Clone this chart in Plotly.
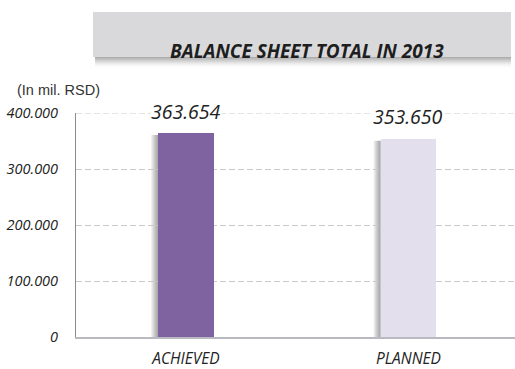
import plotly.graph_objects as go

# Balance sheet total, 2013 (in millions of RSD)
categories = ["ACHIEVED", "PLANNED"]
values = [363654, 353650]
value_labels = ["363.654", "353.650"]
bar_colors = ["#7f63a1", "#e4dfec"]
tick_values = [0, 100000, 200000, 300000, 400000]
tick_labels = ["0", "100.000", "200.000", "300.000", "400.000"]
title_text = "BALANCE SHEET TOTAL IN 2013"
unit_text = "(In mil. RSD)"

W, H = 515, 369
M_L, M_R, M_T, M_B = 76, 0, 113, 32
PW, PH = W - M_L - M_R, H - M_T - M_B
X_RANGE = [-0.494, 1.479]
BAR_W = 0.25
px_x = (X_RANGE[1] - X_RANGE[0]) / PW  # data units per pixel
ITALIC = "Open Sans"
GRID_COLOR = "#c9c9c9"
GRID_DASH = "6px,3px"


def px_to_paper_x(px):
    return (px - M_L) / PW


def px_to_paper_y(py):
    return (H - M_B - py) / PH


xs = list(range(len(categories)))

fig = go.Figure()

shapes = []
# dashed line along the top tick (the edge gridline is not drawn by the axis)
shapes.append(dict(
    type="line", xref="paper", yref="y", layer="below",
    x0=0, x1=1, y0=tick_values[-1], y1=tick_values[-1],
    line=dict(color=GRID_COLOR, width=1, dash=GRID_DASH),
))

# soft drop shadow on the left side of each bar
for i, v in zip(xs, values):
    left = i - BAR_W / 2
    for k in range(1, 8):
        shapes.append(dict(
            type="rect", xref="x", yref="y", layer="below",
            x0=left - k * px_x, x1=left, y0=0, y1=v - 3000,
            fillcolor="rgba(60,60,60,0.075)", line=dict(width=0),
        ))

# title banner with a fading shadow underneath
box_x0, box_x1, box_y0, box_y1 = 93, 511, 12, 57
for k in range(11):
    shapes.append(dict(
        type="rect", xref="paper", yref="paper",
        x0=px_to_paper_x(box_x0 + 2), x1=px_to_paper_x(box_x1),
        y0=px_to_paper_y(box_y1 + 1 + k), y1=px_to_paper_y(box_y1),
        fillcolor="rgba(70,70,70,%.3f)" % (0.085 * (1 - k / 11)),
        line=dict(width=0),
    ))
shapes.append(dict(
    type="rect", xref="paper", yref="paper",
    x0=px_to_paper_x(box_x0), x1=px_to_paper_x(box_x1),
    y0=px_to_paper_y(box_y1), y1=px_to_paper_y(box_y0),
    fillcolor="#d9d9db", line=dict(width=0),
))

fig.add_trace(go.Bar(
    x=xs, y=values, width=BAR_W,
    marker=dict(color=bar_colors, line=dict(width=0)),
    hoverinfo="skip",
))

annotations = []
for i, v, lab in zip(xs, values, value_labels):
    annotations.append(dict(
        x=i, y=v, xref="x", yref="y", text="<i>" + lab + "</i>",
        showarrow=False, yshift=22, bgcolor="white", borderpad=0,
        font=dict(family=ITALIC, size=19.5, color="#222222"),
    ))

annotations.append(dict(
    xref="paper", yref="paper",
    x=px_to_paper_x(307), y=px_to_paper_y(36),
    text="<b><i>" + title_text + "</i></b>", showarrow=False,
    font=dict(family=ITALIC, size=19, color="#1e1e1e"),
))
annotations.append(dict(
    xref="paper", yref="paper", xanchor="left",
    x=px_to_paper_x(15), y=px_to_paper_y(80),
    text=unit_text, showarrow=False,
    font=dict(family="Liberation Sans", size=14.5, color="#333333"),
))

fig.update_layout(
    width=W, height=H,
    margin=dict(l=M_L, r=M_R, t=M_T, b=M_B, pad=0, autoexpand=False),
    paper_bgcolor="white", plot_bgcolor="white",
    showlegend=False, bargap=0,
    shapes=shapes, annotations=annotations,
    xaxis=dict(
        range=X_RANGE, tickvals=xs,
        ticktext=["<i>" + c + "</i>" for c in categories],
        showgrid=False, zeroline=False, ticks="", automargin=False,
        showline=True, linecolor="#b9b9c1", linewidth=2,
        tickfont=dict(family=ITALIC, size=15.5, color="#222222"),
        ticklabelstandoff=6,
    ),
    yaxis=dict(
        range=[0, 400000], tickvals=tick_values,
        ticktext=["<i>" + t + "</i>" for t in tick_labels],
        showgrid=True, gridcolor=GRID_COLOR, griddash=GRID_DASH, gridwidth=1,
        zeroline=False, ticks="", automargin=False,
        showline=True, linecolor="#8a8a8a", linewidth=1,
        tickfont=dict(family=ITALIC, size=14.5, color="#222222"),
        ticklabelstandoff=14,
    ),
)

fig.write_html("out.html")
